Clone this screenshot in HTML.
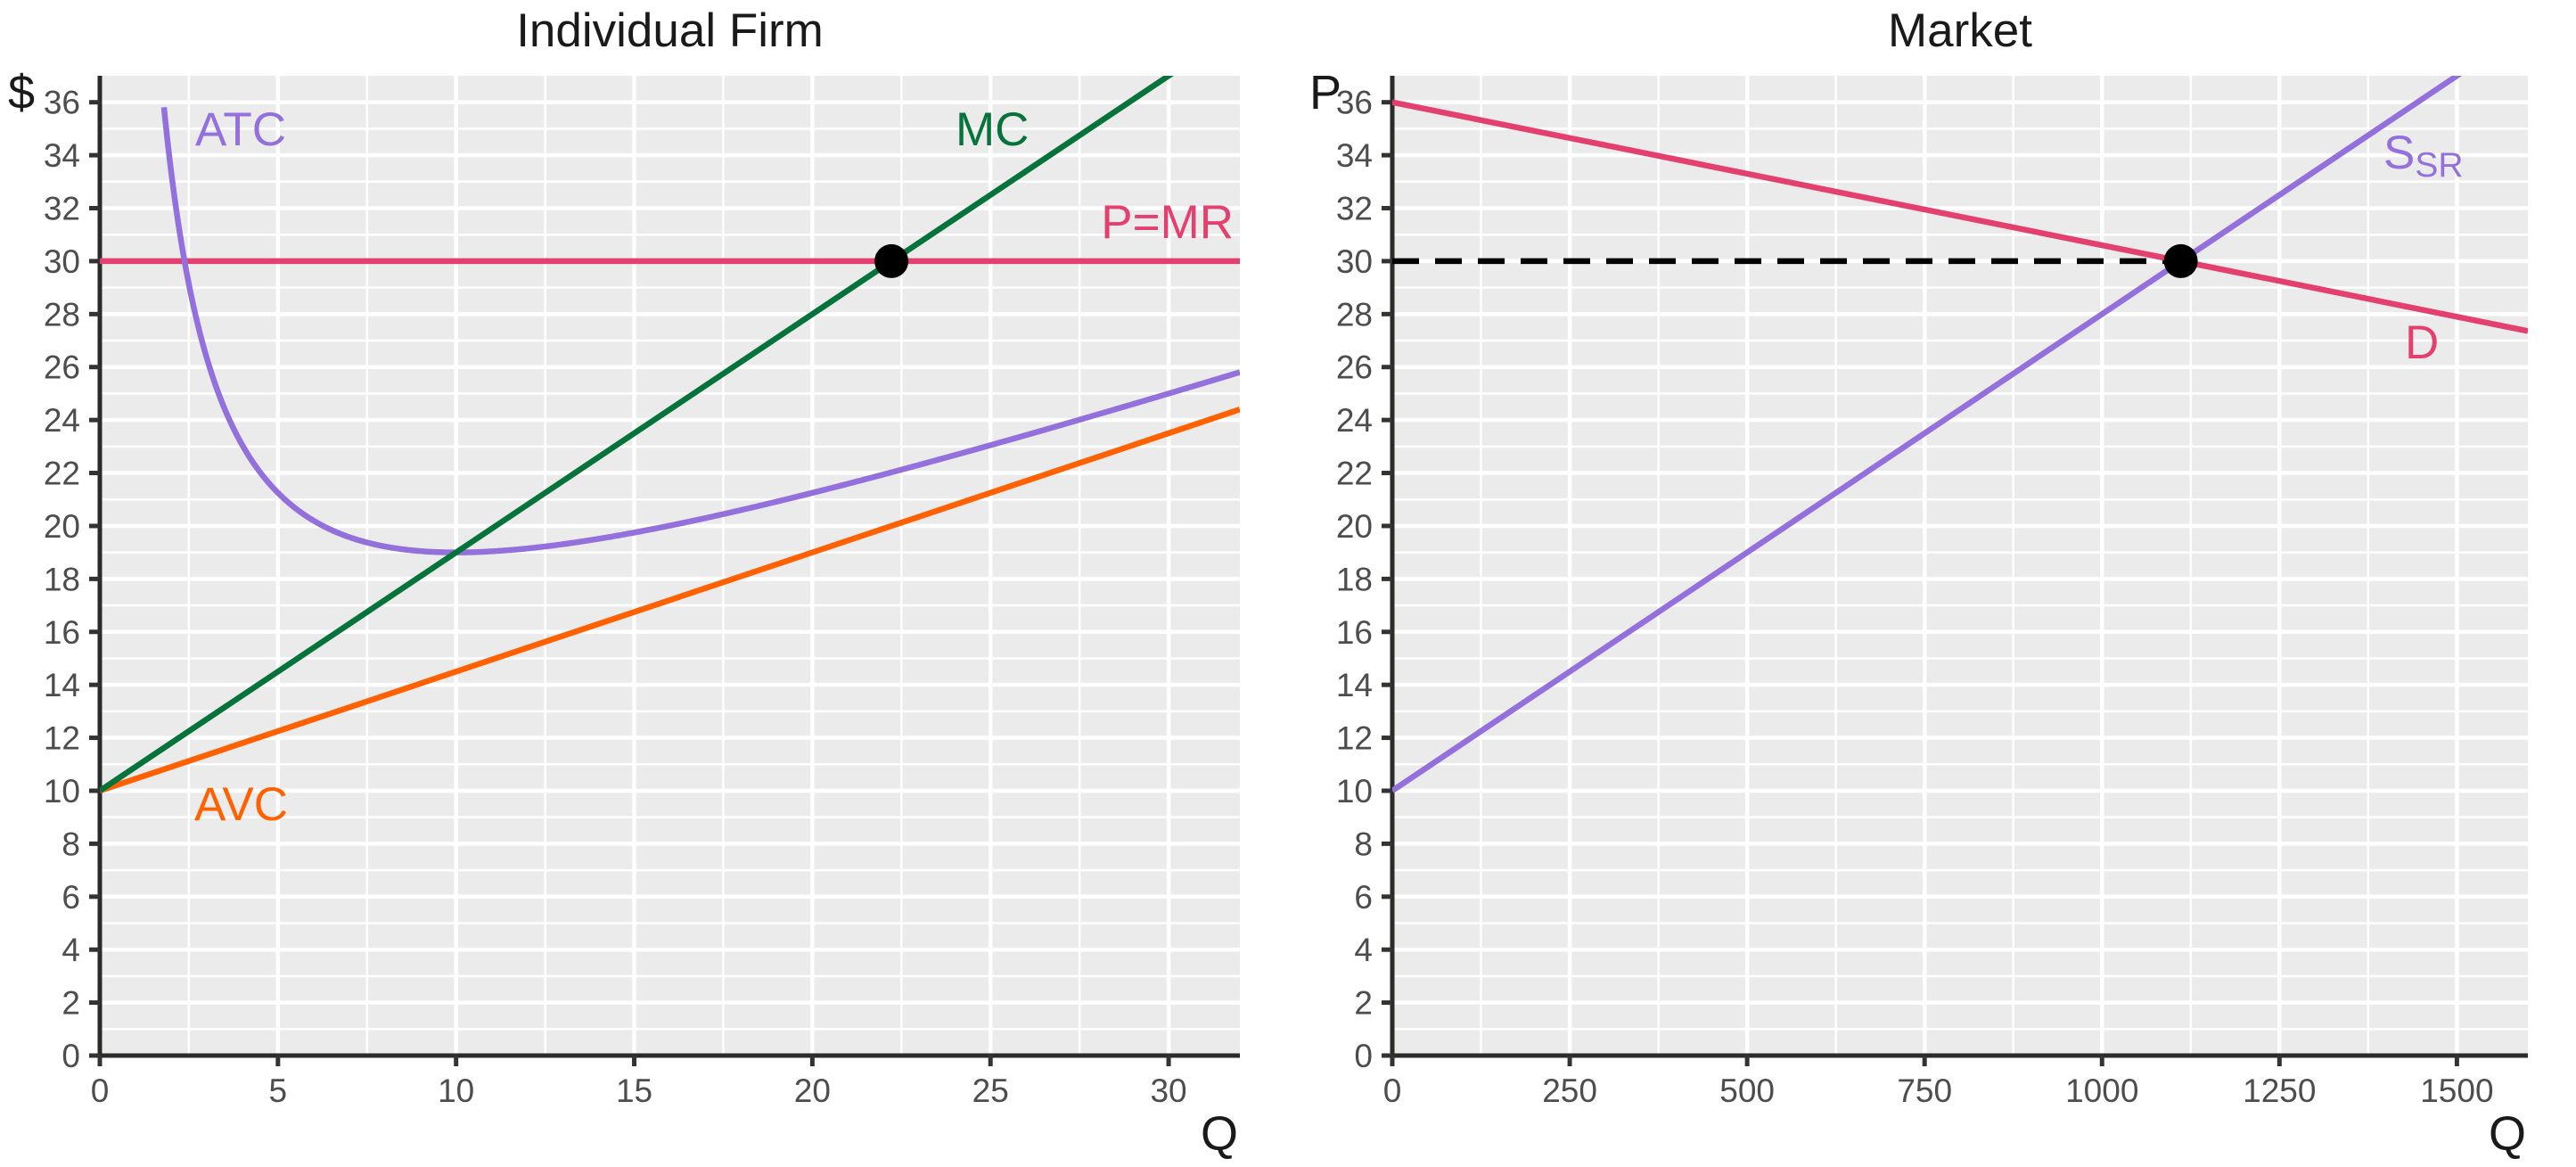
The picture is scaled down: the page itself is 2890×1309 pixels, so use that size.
<!DOCTYPE html>
<html><head><meta charset="utf-8"><style>
html,body{margin:0;padding:0;background:#fff;}
svg{display:block;font-family:"Liberation Sans",Arial,sans-serif;}
</style></head><body>
<svg id="chart" width="2890" height="1309" viewBox="0 0 2890 1309"></svg>
<script>
// ---- data ----
const firmXTicks = [0,5,10,15,20,25,30];
const yTicks = [0,2,4,6,8,10,12,14,16,18,20,22,24,26,28,30,32,34,36];
const marketXTicks = [0,250,500,750,1000,1250,1500];
const mcLine = [[0,10],[32,38.8]];          // MC = 10 + 0.9Q
const avcLine = [[0,10],[32,24.4]];         // AVC = 10 + 0.45Q
const atcFixedCost = [45];
const atcRange = [1.8,32];
const priceLevel = [30];
const firmEq = [22.22,30];
const demandLine = [[0,36],[1600,27.36]];
const supplyLine = [[0,10],[1600,38.8]];
const marketEq = [1111,30];

const atcPts=[];
for(let q=atcRange[0];q<=atcRange[1]+1e-9;q+=0.05){atcPts.push([q,10+0.45*q+atcFixedCost[0]/q]);}

const NS='http://www.w3.org/2000/svg';
const svg=document.getElementById('chart');
function el(tag,attrs,parent){const e=document.createElementNS(NS,tag);for(const k in attrs)e.setAttribute(k,attrs[k]);(parent||svg).appendChild(e);return e;}

const Y0=1184, YT=85, YMAX=37;
function ys(v){return Y0-(v/YMAX)*(Y0-YT);}

function panel(cfg){
  const g=el('g',{});
  
  
  const xs=v=>cfg.x0+(v/cfg.xmax)*(cfg.x1-cfg.x0);
  const bg=el('rect',{x:cfg.x0,y:YT,width:cfg.x1-cfg.x0,height:Y0-YT,fill:'#EBEBEB'},g);
  
  
  for(let v=1;v<YMAX;v+=2){el('line',{x1:cfg.x0,x2:cfg.x1,y1:ys(v),y2:ys(v),stroke:'#fff','stroke-width':2.5},g);}
  for(let i=0;i<cfg.ticks.length;i++){const v=cfg.ticks[i]+cfg.step/2;if(v<cfg.xmax)el('line',{x1:xs(v),x2:xs(v),y1:YT,y2:Y0,stroke:'#fff','stroke-width':2.5},g);}
  yTicks.forEach(v=>el('line',{x1:cfg.x0,x2:cfg.x1,y1:ys(v),y2:ys(v),stroke:'#fff','stroke-width':4.5},g));
  cfg.ticks.forEach(v=>el('line',{x1:xs(v),x2:xs(v),y1:YT,y2:Y0,stroke:'#fff','stroke-width':4.5},g));
  const ax=el('line',{x1:cfg.x0,x2:cfg.x0,y1:YT,y2:Y0+2,stroke:'#2b2b27','stroke-width':5},g);
  
  const bx=el('line',{x1:cfg.x0-2,x2:cfg.x1,y1:Y0,y2:Y0,stroke:'#2b2b27','stroke-width':5},g);
  
  yTicks.forEach(v=>{
    el('line',{x1:cfg.x0-12,x2:cfg.x0,y1:ys(v),y2:ys(v),stroke:'#333','stroke-width':5},g);
    const t=el('text',{x:cfg.x0-22,y:ys(v)+13,'text-anchor':'end','font-size':37,fill:'#4d4d4d'},g);
    t.textContent=v;
    
  });
  cfg.ticks.forEach(v=>{
    el('line',{x1:xs(v),x2:xs(v),y1:Y0,y2:Y0+12,stroke:'#333','stroke-width':5},g);
    const t=el('text',{x:xs(v),y:Y0+52,'text-anchor':'middle','font-size':37,fill:'#4d4d4d'},g);
    t.textContent=v;
    
  });
  const tt=el('text',{x:(cfg.x0+cfg.x1)/2,y:52,'text-anchor':'middle','font-size':53,fill:'#1a1a1a'},g);
  tt.textContent=cfg.title;
  const xl=el('text',{x:cfg.x1-2,y:1290,'text-anchor':'end','font-size':54,fill:'#1a1a1a'},g);
  xl.textContent='Q';
  const yl=el('text',{x:cfg.ylx,y:122,'text-anchor':'middle','font-size':54,fill:'#1a1a1a'},g);
  yl.textContent=cfg.ylab;
  const clip=el('clipPath',{id:cfg.name+'-clip'},g);
  el('rect',{x:cfg.x0,y:YT,width:cfg.x1-cfg.x0,height:Y0-YT},clip);
  const plot=el('g',{'clip-path':'url(#'+cfg.name+'-clip)'},g);
  return {g,plot,xs};
}
function line(p,xs,pts,color,name,dash){
  const l=el('polyline',{points:pts.map(d=>xs(d[0])+','+ys(d[1])).join(' '),fill:'none',stroke:color,'stroke-width':6.5,'stroke-linejoin':'round'},p);
  if(dash)l.setAttribute('stroke-dasharray',dash);
  
  return l;
}
function label(parent,x,y,txt,color,name,anchor){
  const t=el('text',{x:x,y:y,'font-size':53,fill:color,'text-anchor':anchor||'start'},parent);
  t.textContent=txt;return t;
}

const PURPLE='#9370DB',PINK='#E4406F',GREEN='#06733A',ORANGE='#FF6000';

const L=panel({name:'firm-panel',x0:112,x1:1391,xmax:32,ticks:firmXTicks,step:5,title:'Individual Firm',ylab:'$',ylx:24});
line(L.plot,L.xs,[[0,priceLevel[0]],[32,priceLevel[0]]],PINK,'p-mr-line');
line(L.plot,L.xs,avcLine,ORANGE,'avc-line');
line(L.plot,L.xs,atcPts,PURPLE,'atc-curve');
line(L.plot,L.xs,mcLine,GREEN,'mc-line');
const d1=el('circle',{cx:L.xs(firmEq[0]),cy:ys(firmEq[1]),r:19,fill:'#000'},L.g);

label(L.g,219,163,'ATC',PURPLE,'atc-label');
label(L.g,1072,163,'MC',GREEN,'mc-label');
label(L.g,1384,267,'P=MR',PINK,'p-mr-label','end');
label(L.g,218,920,'AVC',ORANGE,'avc-label');

const R=panel({name:'market-panel',x0:1562,x1:2836,xmax:1600,ticks:marketXTicks,step:250,title:'Market',ylab:'P',ylx:1487});
line(R.plot,R.xs,[[0,marketEq[1]],[marketEq[0],marketEq[1]]],'#000','price-dashed-line','30,18');
line(R.plot,R.xs,demandLine,PINK,'demand-line');
line(R.plot,R.xs,supplyLine,PURPLE,'supply-line');
const d2=el('circle',{cx:R.xs(marketEq[0]),cy:ys(marketEq[1]),r:19,fill:'#000'},R.g);

const s=el('text',{x:2674,y:189,'font-size':53,fill:PURPLE},R.g);

s.innerHTML='S<tspan font-size="39" dy="9">SR</tspan>';
label(R.g,2698,402,'D',PINK,'demand-label');
</script>
</body></html>
